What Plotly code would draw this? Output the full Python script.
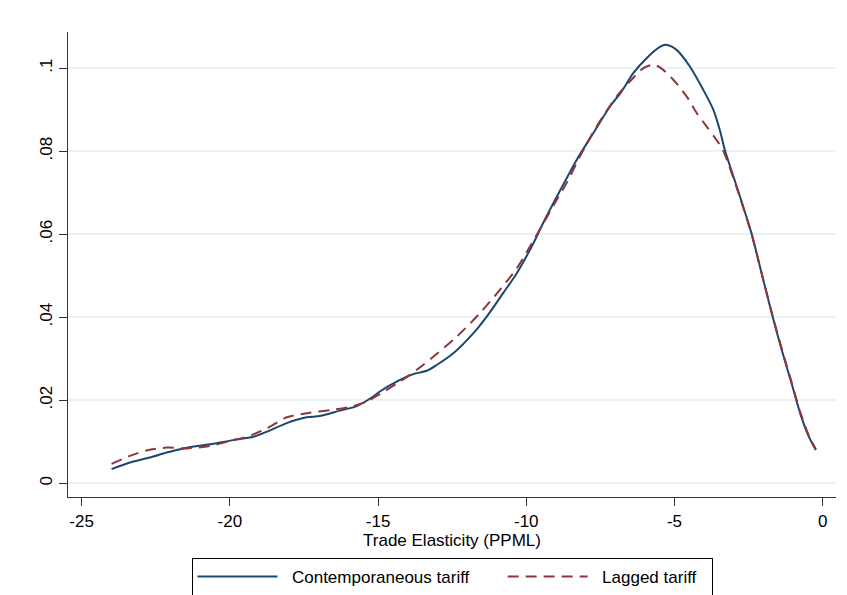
import plotly.graph_objects as go

# Contemporaneous tariff density
x_cont = [-23.99, -23.37, -22.70, -22.13, -21.57, -20.67, -19.89, -19.21, -18.76, -18.08,
          -17.41, -16.96, -16.29, -15.72, -15.16, -14.94, -14.26, -13.81, -13.36, -13.02,
          -12.46, -11.79, -11.34, -10.78, -10.32, -9.76, -9.43, -8.97, -8.30, -7.74,
          -7.18, -6.78, -6.39, -5.94, -5.49, -5.29, -4.93, -4.48, -4.03, -3.69,
          -3.47, -3.30, -2.90, -2.40, -2.06, -1.72, -1.38, -1.05, -0.76, -0.49, -0.23]
y_cont = [0.0034, 0.0050, 0.0062, 0.0074, 0.0084, 0.0094, 0.0104, 0.0112, 0.0124, 0.0145,
          0.0159, 0.0162, 0.0175, 0.0186, 0.0209, 0.0221, 0.0249, 0.0263, 0.0271, 0.0285,
          0.0313, 0.0361, 0.0401, 0.0458, 0.0506, 0.0578, 0.0627, 0.0690, 0.0779, 0.0843,
          0.0907, 0.0944, 0.0988, 0.1024, 0.1051, 0.1056, 0.1044, 0.1004, 0.0948, 0.0900,
          0.0851, 0.0803, 0.0715, 0.0602, 0.0506, 0.0410, 0.0321, 0.0241, 0.0169, 0.0116, 0.0080]

# Lagged tariff density
x_lag = [-23.99, -23.37, -22.81, -22.13, -21.46, -20.67, -19.99, -19.43, -18.76, -18.08,
         -17.30, -16.51, -15.84, -15.38, -14.94, -14.26, -13.48, -12.35, -11.56, -10.89,
         -10.32, -9.65, -8.97, -8.64, -8.19, -7.63, -6.95, -6.50, -6.05, -5.72,
         -5.49, -5.04, -4.59, -4.25, -3.91, -3.58, -3.35, -2.90, -2.40, -2.06,
         -1.72, -1.38, -1.05, -0.76, -0.49, -0.23]
y_lag = [0.0047, 0.0066, 0.0079, 0.0086, 0.0084, 0.0090, 0.0102, 0.0112, 0.0132, 0.0159,
         0.0170, 0.0177, 0.0186, 0.0197, 0.0215, 0.0245, 0.0285, 0.0353, 0.0410, 0.0466,
         0.0518, 0.0598, 0.0683, 0.0723, 0.0787, 0.0859, 0.0932, 0.0968, 0.1000, 0.1008,
         0.1002, 0.0972, 0.0932, 0.0892, 0.0859, 0.0827, 0.0800, 0.0712, 0.0600, 0.0506,
         0.0412, 0.0324, 0.0244, 0.0172, 0.0119, 0.0082]

x_ticks = [-25, -20, -15, -10, -5, 0]
x_ticklabels = ["-25", "-20", "-15", "-10", "-5", "0"]
y_ticks = [0, 0.02, 0.04, 0.06, 0.08, 0.1]
y_ticklabels = ["0", ".02", ".04", ".06", ".08", ".1"]
NB = "\u00a0"
series_names = [NB * 2 + "Contemporaneous tariff" + NB * 6, NB * 2 + "Lagged tariff" + NB * 2]

FONT = "Liberation Sans, Arial, sans-serif"

fig = go.Figure()
fig.add_trace(go.Scatter(x=x_cont, y=y_cont, mode="lines", name=series_names[0],
                         line=dict(color="#1a476f", width=2, shape="spline", smoothing=0.8)))
fig.add_trace(go.Scatter(x=x_lag, y=y_lag, mode="lines", name=series_names[1],
                         line=dict(color="#90353b", width=2, dash="11px,7px", shape="spline", smoothing=0.8)))

fig.update_layout(
    width=847, height=595,
    margin=dict(l=60, r=19, t=24, b=106, autoexpand=False),
    paper_bgcolor="white", plot_bgcolor="white",
    font=dict(family=FONT, size=17, color="black"),
    showlegend=True,
    legend=dict(orientation="h", x=0.5, xanchor="center", y=-0.131, yanchor="top",
                bordercolor="black", borderwidth=1, font=dict(size=17),
                itemwidth=80, traceorder="normal"),
    xaxis=dict(range=[-25.46, 0.45], tickvals=x_ticks, ticktext=x_ticklabels,
               showline=True, linecolor="#333333", linewidth=1.3, ticks="outside",
               ticklen=8, tickwidth=1.3, tickcolor="#333333", showgrid=False, zeroline=False,
               title=dict(text="Trade Elasticity (PPML)", standoff=2, font=dict(size=17))),
    yaxis=dict(range=[-0.0033, 0.1087], tickvals=y_ticks, ticktext=y_ticklabels,
               tickangle=-90, showline=True, linecolor="#333333", linewidth=1.3,
               ticks="outside", ticklen=8, tickwidth=1.3, tickcolor="#333333",
               showgrid=True, gridcolor="#eaf2f3", gridwidth=1.5, zeroline=False),
)

fig.write_html("out.html")
